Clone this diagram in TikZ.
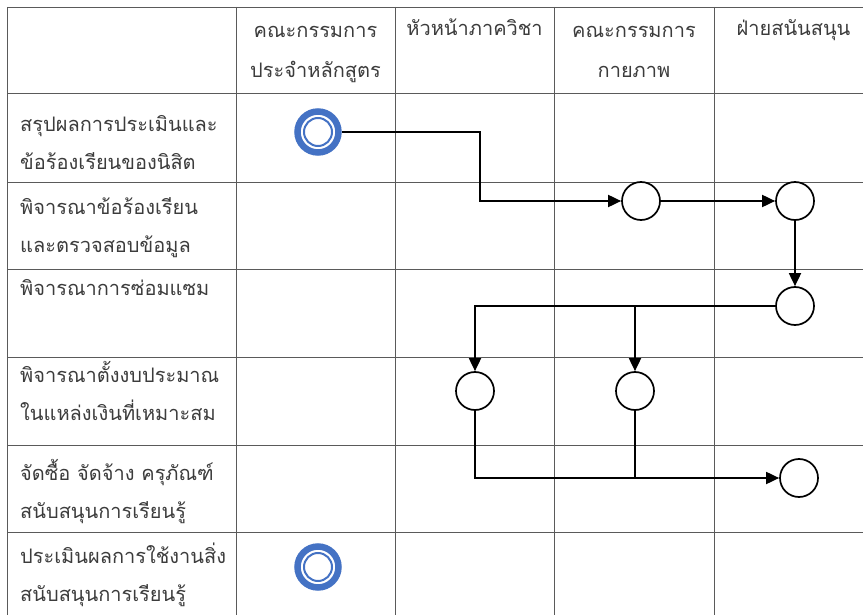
\documentclass[tikz,border=0pt]{standalone}
\usepackage{xcolor}
\usepackage{fontspec}
\newfontfamily\thaifont[Script=Thai]{Loma}
\usepackage{tikz}
\usetikzlibrary{arrows.meta, calc, positioning}
\definecolor{ringblue}{HTML}{4472C4}
\definecolor{gridgray}{HTML}{5A5A5A}
\definecolor{labelgray}{HTML}{3C3C3C}
\tikzset{
  gridline/.style={color=gridgray, line width=0.9pt},
  lanetext/.style={font=\thaifont\fontsize{20}{38}\selectfont, text=labelgray, align=left, anchor=base west, inner sep=0pt},
  headtext/.style={font=\thaifont\fontsize{20}{40}\selectfont, text=labelgray, align=center, anchor=base, inner sep=0pt},
  stepnode/.style={circle, draw, line width=1.7pt, minimum size=38pt, inner sep=0pt},
  endnode/.style={circle, draw=ringblue, line width=6.5pt, minimum size=41pt, inner sep=0pt},
  flow/.style={line width=1.8pt, -{Triangle[length=13pt,width=12pt]}},
  link/.style={line width=1.8pt}
}

\begin{document}
\begin{tikzpicture}[x=1pt, y=-1pt]
\useasboundingbox (0,0) rectangle (863,615);

% table
\draw[gridline] (7,7) -- (863,7);
\draw[gridline] (7,93) -- (863,93);
\draw[gridline] (7,182) -- (863,182);
\draw[gridline] (7,269) -- (863,269);
\draw[gridline] (7,357) -- (863,357);
\draw[gridline] (7,445) -- (863,445);
\draw[gridline] (7,532) -- (863,532);
\draw[gridline] (7,7) -- (7,615);
\draw[gridline] (236,7) -- (236,615);
\draw[gridline] (395,7) -- (395,615);
\draw[gridline] (554,7) -- (554,615);
\draw[gridline] (714,7) -- (714,615);

% headers (base = last line)
\node[headtext] (course) at (315.5,78) {คณะกรรมการ\\ประจำหลักสูตร};
\node[headtext] (dept) at (474.5,36) {หัวหน้าภาควิชา};
\node[headtext] (phys) at (634,78) {คณะกรรมการ\\กายภาพ};
\node[headtext] (support) at (793.5,36) {ฝ่ายสนันสนุน};

% steps
\node[lanetext] (sum) at (20,170) {สรุปผลการประเมินและ\\ข้อร้องเรียนของนิสิต};
\node[lanetext] (check) at (20,252) {พิจารณาข้อร้องเรียน\\และตรวจสอบข้อมูล};
\node[lanetext] (repair) at (20,295) {พิจารณาการซ่อมแซม};
\node[lanetext] (budget) at (20,420) {พิจารณาตั้งงบประมาณ\\ในแหล่งเงินที่เหมาะสม};
\node[lanetext] (buy) at (20,518) {จัดซื้อ จัดจ้าง ครุภัณฑ์\\สนับสนุนการเรียนรู้};
\node[lanetext] (eval) at (20,601) {ประเมินผลการใช้งานสิ่ง\\สนับสนุนการเรียนรู้};

% flow
\node[endnode] (start) at (318,132) {};
\draw[ringblue, line width=2pt] (start) circle (14pt);
\node[stepnode] (physcheck) at (641,201) {};
\node[stepnode] (supcheck) at (795,201) {};
\node[stepnode] (suprepair) at (795,306) {};
\node[stepnode] (deptbudget) at (475,391) {};
\node[stepnode] (physbudget) at (635,391) {};
\node[stepnode] (supbuy) at (799,478) {};
\node[endnode] (finish) at (318,567) {};
\draw[ringblue, line width=2pt] (finish) circle (14pt);

\coordinate (bend) at (480,132);
\coordinate (join) at (635,478);

\draw[flow] (start) -- (bend) |- (physcheck);
\draw[flow] (physcheck) -- (supcheck);
\draw[flow] (supcheck) -- (suprepair);
\draw[flow] (suprepair) -| (deptbudget);
\draw[flow] (suprepair) -| (physbudget);
\draw[flow] (deptbudget) |- (supbuy);
\draw[link] (physbudget) -- (join);

\end{tikzpicture}
\end{document}
